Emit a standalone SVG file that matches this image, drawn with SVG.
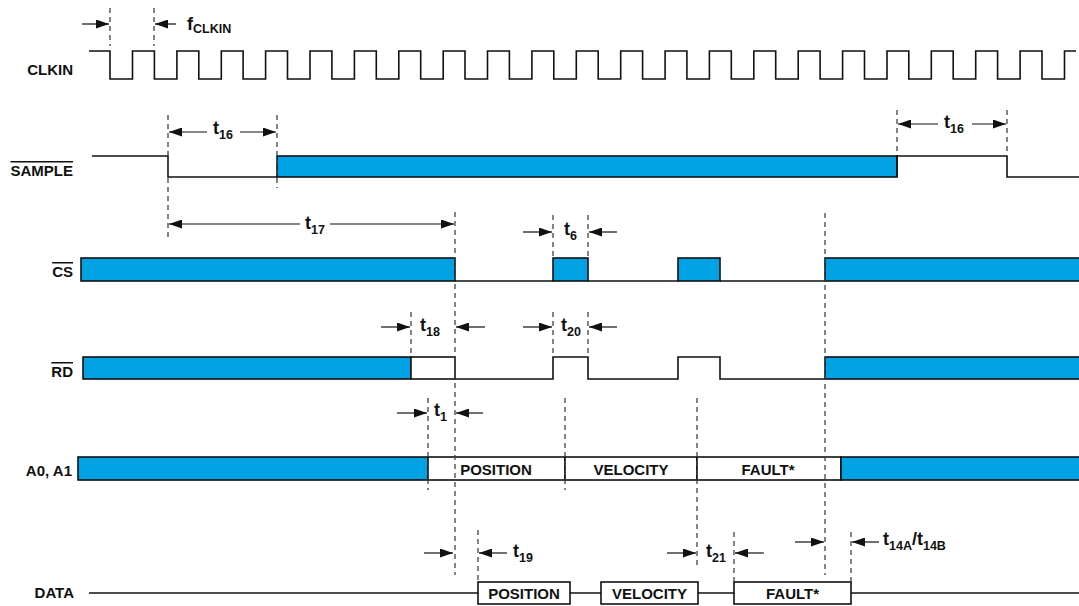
<svg xmlns="http://www.w3.org/2000/svg" width="1079" height="606" viewBox="0 0 1079 606">
<style>
.sig{fill:none;stroke:#111;stroke-width:1.6}
.blue{fill:#00A2E3;stroke:#111;stroke-width:1.6}
.box{fill:#fff;stroke:#111;stroke-width:1.6}
.dash{fill:none;stroke:#444;stroke-width:1.3;stroke-dasharray:5 4}
.arr{fill:none;stroke:#111;stroke-width:1.2;marker-end:url(#ah)}
.lbl{font-family:"Liberation Sans",Arial,sans-serif;font-weight:bold;font-size:15px;fill:#111}
.tm{font-family:"Liberation Sans",Arial,sans-serif;font-weight:bold;font-size:18px;fill:#111}
.sub{font-size:12.5px}
</style>
<defs>
<marker id="ah" markerWidth="13" markerHeight="9" refX="13" refY="4.5" orient="auto" markerUnits="userSpaceOnUse">
<path d="M0,0 L13,4.5 L0,9 z" fill="#111"/>
</marker>
</defs>

<g id="labels">
<text class="lbl" x="73" y="75" text-anchor="end">CLKIN</text>
<text class="lbl" x="73" y="176" text-anchor="end" style="text-decoration:overline">SAMPLE</text>
<text class="lbl" x="73" y="277" text-anchor="end" style="text-decoration:overline">CS</text>
<text class="lbl" x="73" y="377" text-anchor="end" style="text-decoration:overline">RD</text>
<text class="lbl" x="72" y="476" text-anchor="end">A0, A1</text>
<text class="lbl" x="74" y="598" text-anchor="end">DATA</text>
</g>

<g id="clkin">
<path class="sig" d="M89,51 H110 V79 H132.5 V51 H154.4 V79 H176.9 V51 H198.8 V79 H221.3 V51 H243.1 V79 H265.6 V51 H287.5 V79 H310 V51 H331.9 V79 H354.4 V51 H376.3 V79 H398.8 V51 H420.7 V79 H443.2 V51 H465 V79 H487.5 V51 H509.4 V79 H531.9 V51 H553.8 V79 H576.3 V51 H598.2 V79 H620.7 V51 H642.6 V79 H665.1 V51 H686.9 V79 H709.4 V51 H731.3 V79 H753.8 V51 H775.7 V79 H798.2 V51 H820.1 V79 H842.6 V51 H864.5 V79 H887 V51 H908.8 V79 H931.3 V51 H953.2 V79 H975.7 V51 H997.6 V79 H1020.1 V51 H1042 V79 H1064.5 V51 H1076"/>
</g>

<g id="sample">
<path class="sig" d="M92,156 H168 V177 H277"/>
<rect class="blue" x="277" y="156" width="620" height="21"/>
<path class="sig" d="M897,177 V156 H1007 V177 H1079"/>
</g>

<g id="cs">
<rect class="blue" x="81" y="258" width="374" height="23"/>
<path class="sig" d="M455,281 H553 M588,281 H678 M720,281 H825"/>
<rect class="blue" x="553" y="258" width="35" height="23"/>
<rect class="blue" x="678" y="258" width="42" height="23"/>
<rect class="blue" x="825" y="258" width="256" height="23"/>
</g>

<g id="rd">
<rect class="blue" x="83" y="357" width="328" height="22"/>
<rect class="box" x="411" y="357" width="44" height="22"/>
<path class="sig" d="M455,379 H553 V357 H588 V379 H678 V357 H720 V379 H825"/>
<rect class="blue" x="825" y="357" width="256" height="22"/>
</g>

<g id="a0a1">
<rect class="blue" x="78" y="457" width="350" height="23"/>
<rect class="box" x="428" y="457" width="137" height="23"/>
<rect class="box" x="565" y="457" width="132" height="23"/>
<rect class="box" x="697" y="457" width="144" height="23"/>
<rect class="blue" x="841" y="457" width="240" height="23"/>
<text class="lbl" x="496" y="475" text-anchor="middle">POSITION</text>
<text class="lbl" x="631" y="475" text-anchor="middle">VELOCITY</text>
<text class="lbl" x="768" y="475" text-anchor="middle">FAULT*</text>
</g>

<g id="data">
<path class="sig" d="M89,593 H1079"/>
<rect class="box" x="478" y="582" width="92" height="22"/>
<rect class="box" x="601" y="582" width="97" height="22"/>
<rect class="box" x="734" y="582" width="117" height="22"/>
<text class="lbl" x="524" y="599" text-anchor="middle">POSITION</text>
<text class="lbl" x="649.5" y="599" text-anchor="middle">VELOCITY</text>
<text class="lbl" x="792.5" y="599" text-anchor="middle">FAULT*</text>
</g>

<g id="connectors">
<path class="dash" d="M110,8 V46 M154,8 V46 M168,115 V238 M277,115 V188 M897,110 V155 M1007,110 V155 M455,212 V575 M553,215 V258 M588,215 V258 M825,213 V575 M411,312 V356 M553,312 V357 M588,312 V357 M428,398 V490 M565,398 V490 M697,398 V565 M478,530 V582 M734,532 V582 M851,532 V582"/>
<line class="arr" x1="82" y1="24" x2="109" y2="24"/>
<line class="arr" x1="176" y1="24" x2="155" y2="24"/>
<line class="arr" x1="207" y1="132" x2="169" y2="132"/>
<line class="arr" x1="240" y1="132" x2="276" y2="132"/>
<line class="arr" x1="938" y1="124" x2="898" y2="124"/>
<line class="arr" x1="972" y1="124" x2="1006" y2="124"/>
<line class="arr" x1="300" y1="224" x2="169" y2="224"/>
<line class="arr" x1="330" y1="224" x2="454" y2="224"/>
<line class="arr" x1="523" y1="232" x2="552" y2="232"/>
<line class="arr" x1="617" y1="232" x2="589" y2="232"/>
<line class="arr" x1="381" y1="327" x2="410" y2="327"/>
<line class="arr" x1="485" y1="327" x2="456" y2="327"/>
<line class="arr" x1="523" y1="327" x2="552" y2="327"/>
<line class="arr" x1="617" y1="327" x2="589" y2="327"/>
<line class="arr" x1="397" y1="413" x2="427" y2="413"/>
<line class="arr" x1="483" y1="413" x2="456" y2="413"/>
<line class="arr" x1="424" y1="553" x2="453" y2="553"/>
<line class="arr" x1="507" y1="553" x2="479" y2="553"/>
<line class="arr" x1="667" y1="553" x2="696" y2="553"/>
<line class="arr" x1="764" y1="553" x2="735" y2="553"/>
<line class="arr" x1="795" y1="542" x2="824" y2="542"/>
<line class="arr" x1="879" y1="542" x2="852" y2="542"/>
</g>

<g id="timing-labels">
<text class="tm" x="187" y="30">f<tspan class="sub" dy="3">CLKIN</tspan></text>
<text class="tm" x="213" y="134">t<tspan class="sub" dy="5">16</tspan></text>
<text class="tm" x="944" y="128">t<tspan class="sub" dy="5">16</tspan></text>
<text class="tm" x="305" y="229">t<tspan class="sub" dy="5">17</tspan></text>
<text class="tm" x="564" y="235">t<tspan class="sub" dy="5">6</tspan></text>
<text class="tm" x="420" y="331">t<tspan class="sub" dy="5">18</tspan></text>
<text class="tm" x="561" y="331">t<tspan class="sub" dy="5">20</tspan></text>
<text class="tm" x="434" y="416">t<tspan class="sub" dy="5">1</tspan></text>
<text class="tm" x="513" y="557">t<tspan class="sub" dy="5">19</tspan></text>
<text class="tm" x="706" y="557">t<tspan class="sub" dy="5">21</tspan></text>
<text class="tm" x="883" y="545">t<tspan class="sub" dy="5">14A</tspan><tspan dy="-5">/t</tspan><tspan class="sub" dy="5">14B</tspan></text>
</g>
</svg>
